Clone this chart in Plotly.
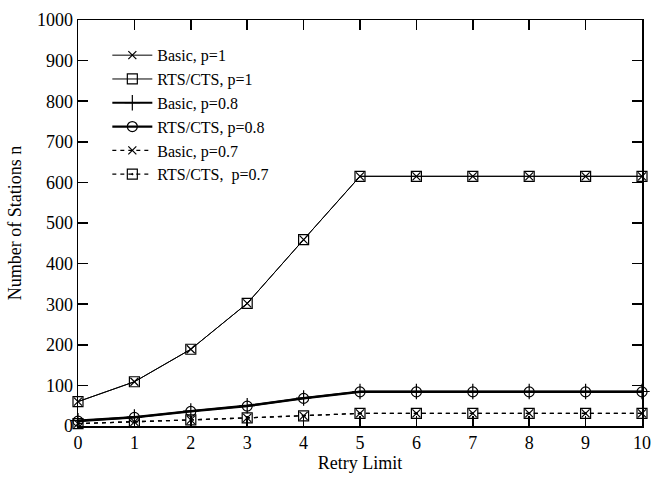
import plotly.graph_objects as go

retry_limit = [0, 1, 2, 3, 4, 5, 6, 7, 8, 9, 10]
basic_p1 = [60, 109, 189, 302, 459, 615, 615, 615, 615, 615, 615]
rts_p1 = [60, 109, 189, 302, 459, 615, 615, 615, 615, 615, 615]
basic_p08 = [13, 22, 37, 50, 69, 85, 85, 85, 85, 85, 85]
rts_p08 = [12, 21, 36, 49, 68, 84, 84, 84, 84, 84, 84]
basic_p07 = [6, 10, 15, 20, 25, 31, 31, 31, 31, 31, 31]
rts_p07 = [6, 10, 15, 20, 25, 31, 31, 31, 31, 31, 31]

names = ["Basic, p=1", "RTS/CTS, p=1", "Basic, p=0.8", "RTS/CTS, p=0.8",
         "Basic, p=0.7", "RTS/CTS,  p=0.7"]
series = [basic_p1, rts_p1, basic_p08, rts_p08, basic_p07, rts_p07]
symbols = ["x-thin-open", "square-open", "cross-thin-open", "circle-open",
           "x-thin-open", "square-open-dot"]
widths = [1, 1, 2.2, 2.2, 1.3, 1.3]
dashes = ["solid", "solid", "solid", "solid", "4px,4px", "4px,4px"]
sizes = [8, 10, 11, 10, 8, 10]

fig = go.Figure()
for nm, ys, sym, w, d, s in zip(names, series, symbols, widths, dashes, sizes):
    fig.add_trace(go.Scatter(
        x=retry_limit, y=ys, name=nm, mode="lines+markers",
        line=dict(color="black", width=w, dash=d),
        marker=dict(symbol=sym, size=s, color="black",
                    line=dict(color="black", width=1.2)),
        cliponaxis=False,
    ))

family = "Liberation Serif, Times New Roman, serif"
font = dict(family=family, size=18, color="black")
axis_common = dict(
    showgrid=False, zeroline=False, showline=True, linecolor="black",
    linewidth=1.5, mirror="ticks", ticks="inside", ticklen=10,
    tickwidth=1.5, tickcolor="black", tickfont=font,
)
fig.update_xaxes(range=[0, 10], dtick=1, title=dict(text="Retry Limit", font=font, standoff=4),
                 **axis_common)
fig.update_yaxes(range=[0, 1000], dtick=100, title=dict(text="Number of Stations n", font=font, standoff=10),
                 **axis_common)

fig.update_layout(
    width=661, height=481, autosize=False,
    margin=dict(l=78, r=10, t=12, b=55),
    plot_bgcolor="white", paper_bgcolor="white",
    font=font,
    showlegend=True,
    legend=dict(x=0.052, y=0.955, xanchor="left", yanchor="top",
                bgcolor="rgba(0,0,0,0)", font=dict(family=family, size=16, color="black"),
                tracegroupgap=0, itemwidth=40),
)

fig.write_html("out.html",
               config={"displayModeBar": False, "staticPlot": True},
               post_script="document.body.style.margin='0';document.body.style.overflow='hidden';")
